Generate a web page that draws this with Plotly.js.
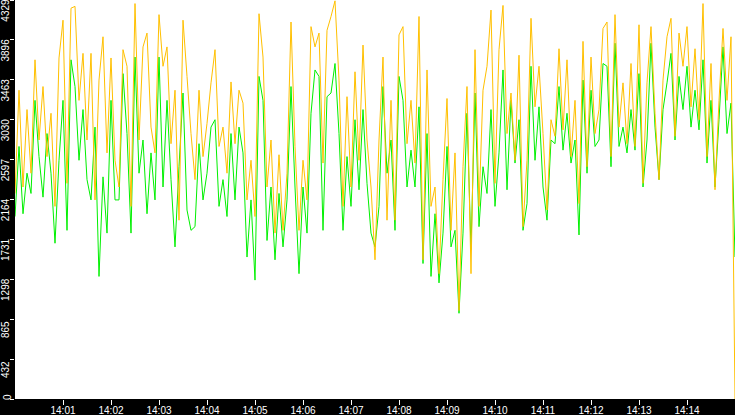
<!DOCTYPE html>
<html>
<head>
<meta charset="utf-8">
<script src="https://cdn.plot.ly/plotly-3.0.1.min.js"></script>
<style>
  html, body { margin: 0; padding: 0; background: #000; }
  #chart { width: 735px; height: 415px; }
</style>
</head>
<body>
<div id="chart"></div>
<script>
// one sample every 5 seconds, starting 14:00:00
const startTime = '2024-01-01 14:00:00';
const stepSeconds = 5;

// orange series (drawn on top)
const orangeSeries = [
  2230,3350,2300,3140,2450,3680,2810,3390,2630,3100,2090,3700,4110,2340,4240,
  4260,3240,3750,2810,3750,2160,3460,3930,2670,3700,2590,2300,3790,3610,2090,
  4290,2810,3820,3970,2950,2670,4170,3610,3820,2770,3350,1940,4110,3500,2880,
  2380,3350,2630,2990,3430,3790,2740,2950,2450,3440,2770,3350,3210,2160,2590,
  1980,4180,3710,2300,2810,1800,2650,1830,2450,4090,2740,1830,2590,2160,4040,
  3820,3970,2560,4000,4150,4320,3460,2090,3280,2300,3550,2590,3840,2810,2300,
  1510,2810,3710,1940,3240,1940,3950,4040,2770,3240,2560,4150,1510,3570,2090,
  2300,1360,2380,3260,1830,2670,960,2520,3390,1360,3790,2090,3350,3610,4220,
  2340,3790,4270,2880,3320,2590,3730,1870,2590,4130,3170,3610,2880,2050,3030,
  2850,3800,2920,3680,2630,3240,2120,3880,2520,3710,2880,3140,4020,4090,2630,
  4170,2950,3430,2770,3640,2740,4060,2340,3430,4040,3100,2380,3460,3930,4130,
  2850,3970,3610,4040,3170,3800,3030,4290,2630,3640,2270,3240,4020,3240,3930,
  0
];

// green series
const greenSeries = [
  1980,2740,2010,2450,2230,3240,2630,2190,2880,2450,1690,2590,3240,1830,3680,
  3390,2590,3140,2380,2160,2950,1330,2410,1800,3240,2160,2160,3530,2880,1800,
  3710,2450,2810,2010,2670,2160,3710,2300,3240,2380,1650,2520,3320,2050,1830,
  1870,2770,2160,2450,2950,3030,2090,2380,1980,2880,2160,2950,2670,1540,2160,
  1290,3500,3240,1720,2300,1510,2230,1650,2160,3390,2300,1360,2300,1800,3100,
  3570,3500,1830,3280,3320,3640,2880,1830,2630,2090,3030,2270,3140,2340,1800,
  1650,2090,3390,2450,2810,1830,3500,3240,2300,2700,2300,3170,1470,2880,1330,
  2010,1260,1800,2740,1650,1830,930,1800,3100,1620,3320,1870,2520,2230,3140,
  2090,2670,3570,2270,3240,2560,3030,1830,2120,3610,2590,3170,2300,1940,2810,
  2770,3390,2700,3100,2560,2810,1780,3460,2450,3350,2740,2810,3640,3610,2520,
  3860,2740,2950,2670,3140,2700,3530,2300,2810,3860,2950,2380,3140,3430,3750,
  2810,3500,3140,3610,2950,3350,2920,3680,2560,3240,2300,3030,3820,2880,3210,
  1540
];

const xTickLabels = ['14:01','14:02','14:03','14:04','14:05','14:06','14:07',
                     '14:08','14:09','14:10','14:11','14:12','14:13','14:14'];
const yTickValues = [0,432,865,1298,1731,2164,2597,3030,3463,3896,4329];

function timeAt(i) {
  const t = new Date(startTime.replace(' ', 'T') + 'Z');
  t.setUTCSeconds(t.getUTCSeconds() + i * stepSeconds);
  return t.toISOString().slice(0, 19).replace('T', ' ');
}
const times = orangeSeries.map((_, i) => timeAt(i));

const traces = [
  {
    x: times, y: greenSeries, type: 'scatter', mode: 'lines',
    line: { color: '#00f000', width: 1, simplify: false },
    hoverinfo: 'skip'
  },
  {
    x: times, y: orangeSeries, type: 'scatter', mode: 'lines',
    line: { color: '#ffc000', width: 1, simplify: false },
    hoverinfo: 'skip'
  }
];

const layout = {
  width: 735,
  height: 415,
  margin: { l: 15, r: 0, t: 0, b: 16, pad: 0 },
  paper_bgcolor: '#000',
  plot_bgcolor: '#fff',
  showlegend: false,
  font: { family: 'Liberation Sans, Arial, sans-serif', size: 10, color: '#fff' },
  xaxis: {
    type: 'date',
    range: [timeAt(0), timeAt(180)],
    tickmode: 'array',
    tickvals: xTickLabels.map(l => '2024-01-01 ' + l + ':00'),
    ticktext: xTickLabels,
    ticks: 'outside', ticklen: 5, tickwidth: 1, tickcolor: '#fff',
    ticklabelstandoff: -3,
    showgrid: false, zeroline: false, showline: false
  },
  yaxis: {
    range: [0, 4329],
    tickmode: 'array',
    tickvals: yTickValues,
    // the bottom "0" sits on its tick, drawn as an annotation below
    ticktext: yTickValues.map(v => v === 0 ? '' : String(v)),
    tickangle: -90,
    ticklabelshift: 12,
    ticklabelstandoff: -3,
    ticklabeloverflow: 'allow',
    ticks: 'outside', ticklen: 4, tickwidth: 1, tickcolor: '#fff',
    showgrid: false, zeroline: false, showline: false
  },
  annotations: [{
    text: String(yTickValues[0]),
    xref: 'paper', x: 0, xanchor: 'center', xshift: -8,
    yref: 'y', y: 0, yanchor: 'bottom', yshift: -2,
    textangle: -90, showarrow: false, borderpad: 0,
    font: { family: 'Liberation Sans, Arial, sans-serif', size: 10, color: '#fff' }
  }],
  hovermode: false
};

Plotly.newPlot('chart', traces, layout, { displayModeBar: false, staticPlot: true });
</script>
</body>
</html>
